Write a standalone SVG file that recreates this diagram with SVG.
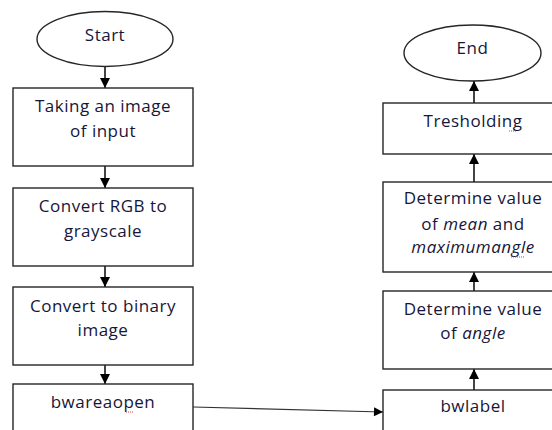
<svg xmlns="http://www.w3.org/2000/svg" width="552" height="430" viewBox="0 0 552 430">
<defs>
<style>
.box{fill:#fff;stroke:#262626;stroke-width:1.4}
.t{font-family:"Open Sans","DejaVu Sans",sans-serif;font-size:17px;letter-spacing:0.5px;fill:#16163a;text-anchor:middle}
.c{stroke:#444;stroke-width:2;fill:none}
.thin{stroke:#333;stroke-width:1.2;fill:none}
.sq{stroke:#d04040;stroke-width:1;stroke-dasharray:1 1;fill:none}
</style>
<marker id="ah" viewBox="0 0 10 10" refX="10" refY="5" markerWidth="10" markerHeight="10" markerUnits="userSpaceOnUse" orient="auto">
<path d="M0,0 L10,5 L0,10 z" fill="#000"/>
</marker>
<marker id="ah2" viewBox="0 0 10 10" refX="10" refY="5" markerWidth="11" markerHeight="9" markerUnits="userSpaceOnUse" orient="auto">
<path d="M0,0 L10,5 L0,10 z" fill="#000"/>
</marker>
</defs>
<rect width="552" height="430" fill="#fff"/>
<g id="connectors">
<line class="c" x1="105" y1="67" x2="105" y2="88" marker-end="url(#ah)"/>
<line class="c" x1="105" y1="166" x2="105" y2="188" marker-end="url(#ah)"/>
<line class="c" x1="105" y1="266" x2="105" y2="287" marker-end="url(#ah)"/>
<line class="c" x1="105" y1="365" x2="105" y2="384" marker-end="url(#ah)"/>
<line class="thin" x1="193" y1="407" x2="383" y2="412" marker-end="url(#ah2)"/>
<line class="c" x1="474" y1="390" x2="474" y2="369" marker-end="url(#ah)"/>
<line class="c" x1="474" y1="291" x2="474" y2="272" marker-end="url(#ah)"/>
<line class="c" x1="474" y1="182" x2="474" y2="154" marker-end="url(#ah)"/>
<line class="c" x1="474" y1="103" x2="474" y2="81" marker-end="url(#ah)"/>
</g>
<g id="start">
<ellipse class="box" cx="105" cy="39" rx="68" ry="27.5"/>
<text class="t" x="105" y="41">Start</text>
</g>
<g id="take-image">
<rect class="box" x="13" y="88" width="180" height="78"/>
<text class="t" x="103" y="112">Taking an image</text>
<text class="t" x="103" y="137">of input</text>
</g>
<g id="rgb-gray">
<rect class="box" x="13" y="188" width="180" height="78"/>
<text class="t" x="103" y="212">Convert RGB to</text>
<text class="t" x="103" y="237">grayscale</text>
</g>
<g id="binary">
<rect class="box" x="13" y="287" width="180" height="78"/>
<text class="t" x="103" y="312">Convert to binary</text>
<text class="t" x="103" y="336">image</text>
</g>
<g id="bwareaopen">
<rect class="box" x="13" y="384" width="180" height="60"/>
<text class="t" x="103" y="408">bwareaopen</text>
<line class="sq" x1="126" y1="412" x2="133" y2="412"/>
</g>
<g id="bwlabel">
<rect class="box" x="383" y="390" width="180" height="60"/>
<text class="t" x="473" y="412">bwlabel</text>
</g>
<g id="angle">
<rect class="box" x="383" y="291" width="180" height="78"/>
<text class="t" x="473" y="315">Determine value</text>
<text class="t" x="473" y="339">of <tspan font-style="italic">angle</tspan></text>
</g>
<g id="mean-max">
<rect class="box" x="383" y="182" width="180" height="90"/>
<text class="t" x="473" y="204">Determine value</text>
<text class="t" x="473" y="230">of <tspan font-style="italic">mean</tspan> and</text>
<text class="t" x="473" y="253" font-style="italic">maximumangle</text>
<line class="sq" x1="511" y1="257" x2="524" y2="257"/>
</g>
<g id="thresholding">
<rect class="box" x="383" y="103" width="180" height="51"/>
<text class="t" x="473" y="127">Tresholding</text>
<line class="sq" x1="509" y1="131" x2="517" y2="131"/>
</g>
<g id="end">
<ellipse class="box" cx="472.5" cy="53" rx="68.5" ry="28"/>
<text class="t" x="472.5" y="54">End</text>
</g>
</svg>
